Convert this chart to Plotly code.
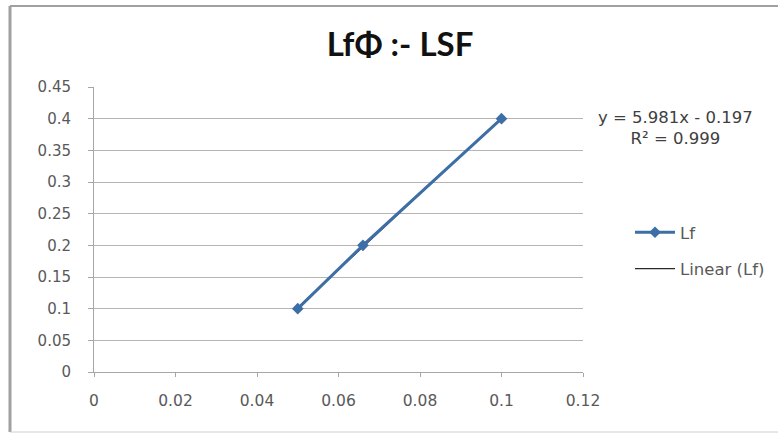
import numpy as np
import plotly.graph_objects as go

# Data
x_vals = [0.05, 0.066, 0.1]
y_vals = [0.1, 0.2, 0.4]
series_name = "Lf"
trend_name = "Linear (Lf)"
title_text = "LfΦ :- LSF"
eq_text = "y = 5.981x - 0.197"
r2_text = "R² = 0.999"
x_ticks = [0, 0.02, 0.04, 0.06, 0.08, 0.1, 0.12]
y_ticks = [0, 0.05, 0.1, 0.15, 0.2, 0.25, 0.3, 0.35, 0.4, 0.45]

slope, intercept = np.polyfit(x_vals, y_vals, 1)
trend_x = [min(x_vals), max(x_vals)]
trend_y = [slope * v + intercept for v in trend_x]

FONT = "'DejaVu Sans', sans-serif"
TFONT = "Lato, 'Open Sans', sans-serif"
W, H = 778, 433
L, R, T, B = 94, 195, 87, 61
pw, ph = W - L - R, H - T - B

def px_x(p):
    return (p - L) / pw

def px_y(p):
    return (H - B - p) / ph

fig = go.Figure()
fig.add_trace(go.Scatter(
    x=trend_x, y=trend_y, mode="lines", name=trend_name,
    line=dict(color="#2b2b2b", width=1.2), legendrank=2, legendgroup="b",
))
fig.add_trace(go.Scatter(
    x=x_vals, y=y_vals, mode="lines+markers", name=series_name,
    line=dict(color="#3d6fa6", width=3),
    marker=dict(symbol="diamond", size=9, color="#3d6fa6"),
    legendrank=1, legendgroup="a",
))

grey = "#a6a6a6"
fig.update_layout(
    width=W, height=H,
    margin=dict(l=L, r=R, t=T, b=B, autoexpand=False),
    paper_bgcolor="white", plot_bgcolor="white",
    font=dict(family=FONT, color="#595959", size=15),
    title=dict(text=title_text, x=px_x(400), xanchor="center", xref="paper",
               y=1 - 44 / H, yanchor="middle",
               font=dict(family=TFONT, size=33, color="#111111", weight="bold")),
    xaxis=dict(range=[0, 0.12], tickvals=x_ticks, ticktext=[f"{v:g}" for v in x_ticks],
               showgrid=False, zeroline=False, showline=True, linecolor=grey, linewidth=1,
               ticks="outside", ticklen=4, tickcolor=grey, ticklabelstandoff=10,
               tickfont=dict(size=15.5, color="#595959")),
    yaxis=dict(range=[0, 0.45], tickvals=y_ticks, ticktext=[f"{v:g}" for v in y_ticks],
               showgrid=True, gridcolor="#b5b5b5", gridwidth=1, zeroline=False,
               showline=True, linecolor=grey, linewidth=1,
               ticks="outside", ticklen=5, tickcolor=grey, ticklabelstandoff=14,
               tickfont=dict(size=15, color="#595959")),
    legend=dict(x=px_x(630), xanchor="left", y=px_y(250.5), yanchor="middle",
                font=dict(family=FONT, size=16.5, color="#595959"),
                tracegroupgap=12, bgcolor="rgba(0,0,0,0)", itemwidth=40),
    showlegend=True,
)

fig.add_annotation(
    x=px_x(675), y=px_y(128), xref="paper", yref="paper",
    xanchor="center", yanchor="middle",
    text=eq_text + "<br>" + r2_text, showarrow=False, align="center",
    font=dict(family=FONT, size=16.5, color="#404040"),
)

# chart frame
fig.add_shape(type="line", xref="paper", yref="paper",
              x0=px_x(10), x1=px_x(10), y0=px_y(6), y1=px_y(432),
              line=dict(color="#a0a0a0", width=3))
fig.add_shape(type="line", xref="paper", yref="paper",
              x0=px_x(10), x1=px_x(778), y0=px_y(6), y1=px_y(6),
              line=dict(color="#a0a0a0", width=2))
fig.add_shape(type="line", xref="paper", yref="paper",
              x0=px_x(10), x1=px_x(778), y0=px_y(432), y1=px_y(432),
              line=dict(color="#d0d0d0", width=1))

fig.write_html("out.html")
